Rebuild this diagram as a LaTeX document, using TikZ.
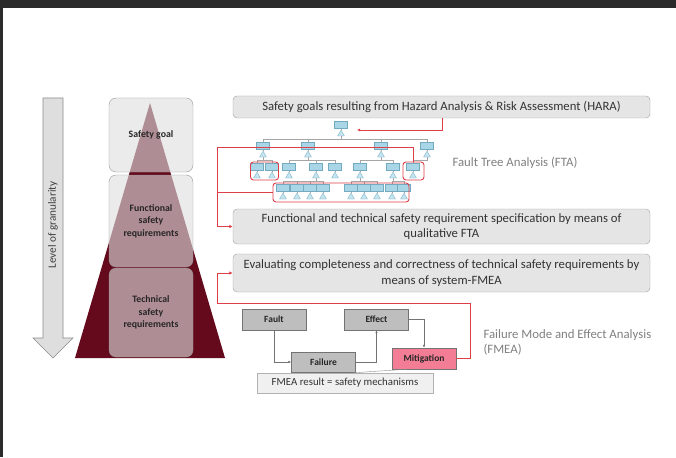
\documentclass[tikz,border=0pt]{standalone}
\usepackage{fontspec}
\setmainfont{Carlito}
\usetikzlibrary{arrows.meta,shapes.geometric}

% one event of the fault tree: a small box with its gate below
\newcommand{\ftevent}[3]{%
    \node[ftbox] (#1) at (#2,#3) {};
    \node[ftgate] (#1g) at (#2,#3+9) {};
    \draw[ftline] (#1.south) -- (#1g.north);
}
% links a gate to its child events
\newcommand{\ftlink}[2]{%
    \foreach \c in {#2} { \draw[ftline] (#1g.south) -- ++(0,2.7) -| (\c.north); }
}

\begin{document}
\begin{tikzpicture}[x=1pt,y=-1pt,
    levelbox/.style={shape=rectangle,draw=levelborder,fill=levelgray,fill opacity=0.62,text opacity=1,rounded corners=7pt,align=center,minimum width=84pt,font=\fontsize{9.8}{12.5}\selectfont\bfseries,text=black!85},
    infobox/.style={shape=rectangle,draw=infoborder,fill=infogray,rounded corners=4pt,align=center,minimum width=417pt,font=\fontsize{12.7}{15.5}\selectfont,text=black!80},
    fmeabox/.style={shape=rectangle,draw=black!55,fill=fmeagray,minimum width=64pt,minimum height=21pt,font=\fontsize{9.5}{10}\selectfont\bfseries,text=black!85},
    ftbox/.style={shape=rectangle,draw=ftborder,fill=ftblue,line width=0.3pt,minimum width=13pt,minimum height=7pt,inner sep=0pt},
    ftgate/.style={regular polygon,regular polygon sides=3,draw=ftborder,fill=ftgatefill,line width=0.3pt,minimum size=8pt,inner sep=0pt},
    ftline/.style={draw=black!35,line width=0.35pt},
    ftgroup/.style={shape=rectangle,draw=linkred,line width=0.9pt,rounded corners=3pt,inner sep=0pt},
    redlink/.style={draw=linkred,line width=0.9pt},
    fmealink/.style={draw=black!55,line width=0.5pt,-{Latex[length=3pt,width=2.5pt]}},
    sidelabel/.style={font=\fontsize{12.8}{15}\selectfont,text=black!50,align=left}
]
    \definecolor{framedark}{RGB}{43,43,43}
    \definecolor{maroon}{RGB}{100,10,28}
    \definecolor{levelgray}{RGB}{222,222,222}
    \definecolor{levelborder}{RGB}{150,150,150}
    \definecolor{infogray}{RGB}{229,229,229}
    \definecolor{infoborder}{RGB}{160,160,160}
    \definecolor{fmeagray}{RGB}{190,190,190}
    \definecolor{mitigpink}{RGB}{244,125,150}
    \definecolor{resultgray}{RGB}{240,240,240}
    \definecolor{ftblue}{RGB}{168,214,230}
    \definecolor{ftgatefill}{RGB}{196,228,239}
    \definecolor{ftborder}{RGB}{115,170,192}
    \definecolor{linkred}{RGB}{222,62,72}

    \useasboundingbox (0,0) rectangle (676,457);
    \fill[framedark] (0,0) rectangle (676,8);
    \fill[framedark] (0,0) rectangle (3,457);

    % granularity arrow
    \draw[fill=black!13,draw=black!45,line width=0.6pt] (43,98) -- (63,98) -- (63,338) -- (73,338) -- (53,358) -- (33,338) -- (43,338) -- cycle;
    \node[rotate=90,font=\fontsize{11.2}{12}\selectfont,text=black!75] (granularity) at (53,225) {Level of granularity};

    % pyramid with the three levels
    \fill[maroon] (150,103) -- (225,358) -- (75,358) -- cycle;
    \node[levelbox,minimum height=74pt] (goal) at (151,135) {Safety goal};
    \node[levelbox,minimum height=92pt] (funcreq) at (151,221) {Functional\\safety\\requirements};
    \node[levelbox,minimum height=89pt] (techreq) at (151,312.5) {Technical\\safety\\requirements};

    % steps on the right
    \node[infobox,minimum height=22pt] (hara) at (441.5,107) {Safety goals resulting from Hazard Analysis \& Risk Assessment (HARA)};
    \node[infobox,minimum height=35pt] (ftaspec) at (441.5,226.5) {Functional and technical safety requirement specification by means of\\qualitative FTA};
    \node[infobox,minimum height=38pt] (fmeaeval) at (441.5,273) {Evaluating completeness and correctness of technical safety requirements by\\means of system-FMEA};

    % fault tree
    \ftevent{t0}{341}{125}
    \ftevent{ta}{263}{146}
    \ftevent{tb}{308}{146}
    \ftevent{tc}{381}{146}
    \ftevent{td}{427}{146}
    \ftevent{taa}{257}{167}
    \ftevent{tab}{272}{167}
    \ftevent{tba}{289}{167}
    \ftevent{tbb}{316}{167}
    \ftevent{tbc}{335}{167}
    \ftevent{tca}{360}{167}
    \ftevent{tcb}{393}{167}
    \ftevent{tda}{413}{167}
    \ftevent{tbba}{283}{188}
    \ftevent{tbbb}{297}{188}
    \ftevent{tbbc}{310}{188}
    \ftevent{tbbd}{323}{188}
    \ftevent{tcaa}{351}{188}
    \ftevent{tcab}{364}{188}
    \ftevent{tcac}{377}{188}
    \ftevent{tcba}{392}{188}
    \ftevent{tcbb}{404}{188}
    \ftlink{t0}{ta,tb,tc,td}
    \ftlink{ta}{taa,tab}
    \ftlink{tb}{tba,tbb,tbc}
    \ftlink{tc}{tca,tcb}
    \ftlink{td}{tda}
    \ftlink{tbb}{tbba,tbbb,tbbc,tbbd}
    \ftlink{tca}{tcaa,tcab,tcac}
    \ftlink{tcb}{tcba,tcbb}

    \node[ftgroup,minimum width=28pt,minimum height=18pt] (grpa) at (264.5,171) {};
    \node[ftgroup,minimum width=21pt,minimum height=18pt] (grpb) at (413.5,171) {};
    \node[ftgroup,minimum width=136pt,minimum height=19pt] (grpc) at (341,192.5) {};
    \node[sidelabel,anchor=west] (ftalabel) at (449,163) {Fault Tree Analysis (FTA)};

    % red links
    \coordinate (ftin) at (357,130);
    \coordinate (ftbus) at (217,147);
    \draw[redlink,-{Latex[length=3pt,width=3pt]}] (hara.south -| 442,0) |- (ftin);
    \draw[redlink,-{Latex[length=3.5pt,width=3.5pt]}] (grpb.north) |- (ftbus) |- (ftaspec.west);
    \draw[redlink] (grpc.west) -- (grpc.west -| ftbus);

    % FMEA chain
    \node[fmeabox] (fault) at (274,319.5) {Fault};
    \node[fmeabox] (effect) at (376.5,319.5) {Effect};
    \node[fmeabox,minimum height=20pt] (failure) at (323.5,362) {Failure};
    \node[fmeabox,fill=mitigpink] (mitig) at (424,358.5) {Mitigation};
    \node[shape=rectangle,draw=black!30,fill=resultgray,minimum width=176pt,minimum height=20pt,font=\fontsize{10.8}{11}\selectfont,text=black!80] (result) at (345,383) {FMEA result = safety mechanisms};
    \draw[fmealink] (fault.south) |- (failure.west);
    \draw[fmealink] (failure.east) -| (effect.south);
    \draw[fmealink] (effect.east) -| (mitig.north);
    \draw[draw=black!45,line width=0.4pt] ([xshift=-17pt]mitig.south) -- ([xshift=8pt]result.north);
    \draw[redlink,-{Latex[length=3.5pt,width=3.5pt]}] (mitig.east) -- ++(14,0) |- (217,303) |- (fmeaeval.west);
    \node[sidelabel,anchor=west] (fmealabel) at (480,342) {Failure Mode and Effect Analysis\\(FMEA)};
\end{tikzpicture}
\end{document}
